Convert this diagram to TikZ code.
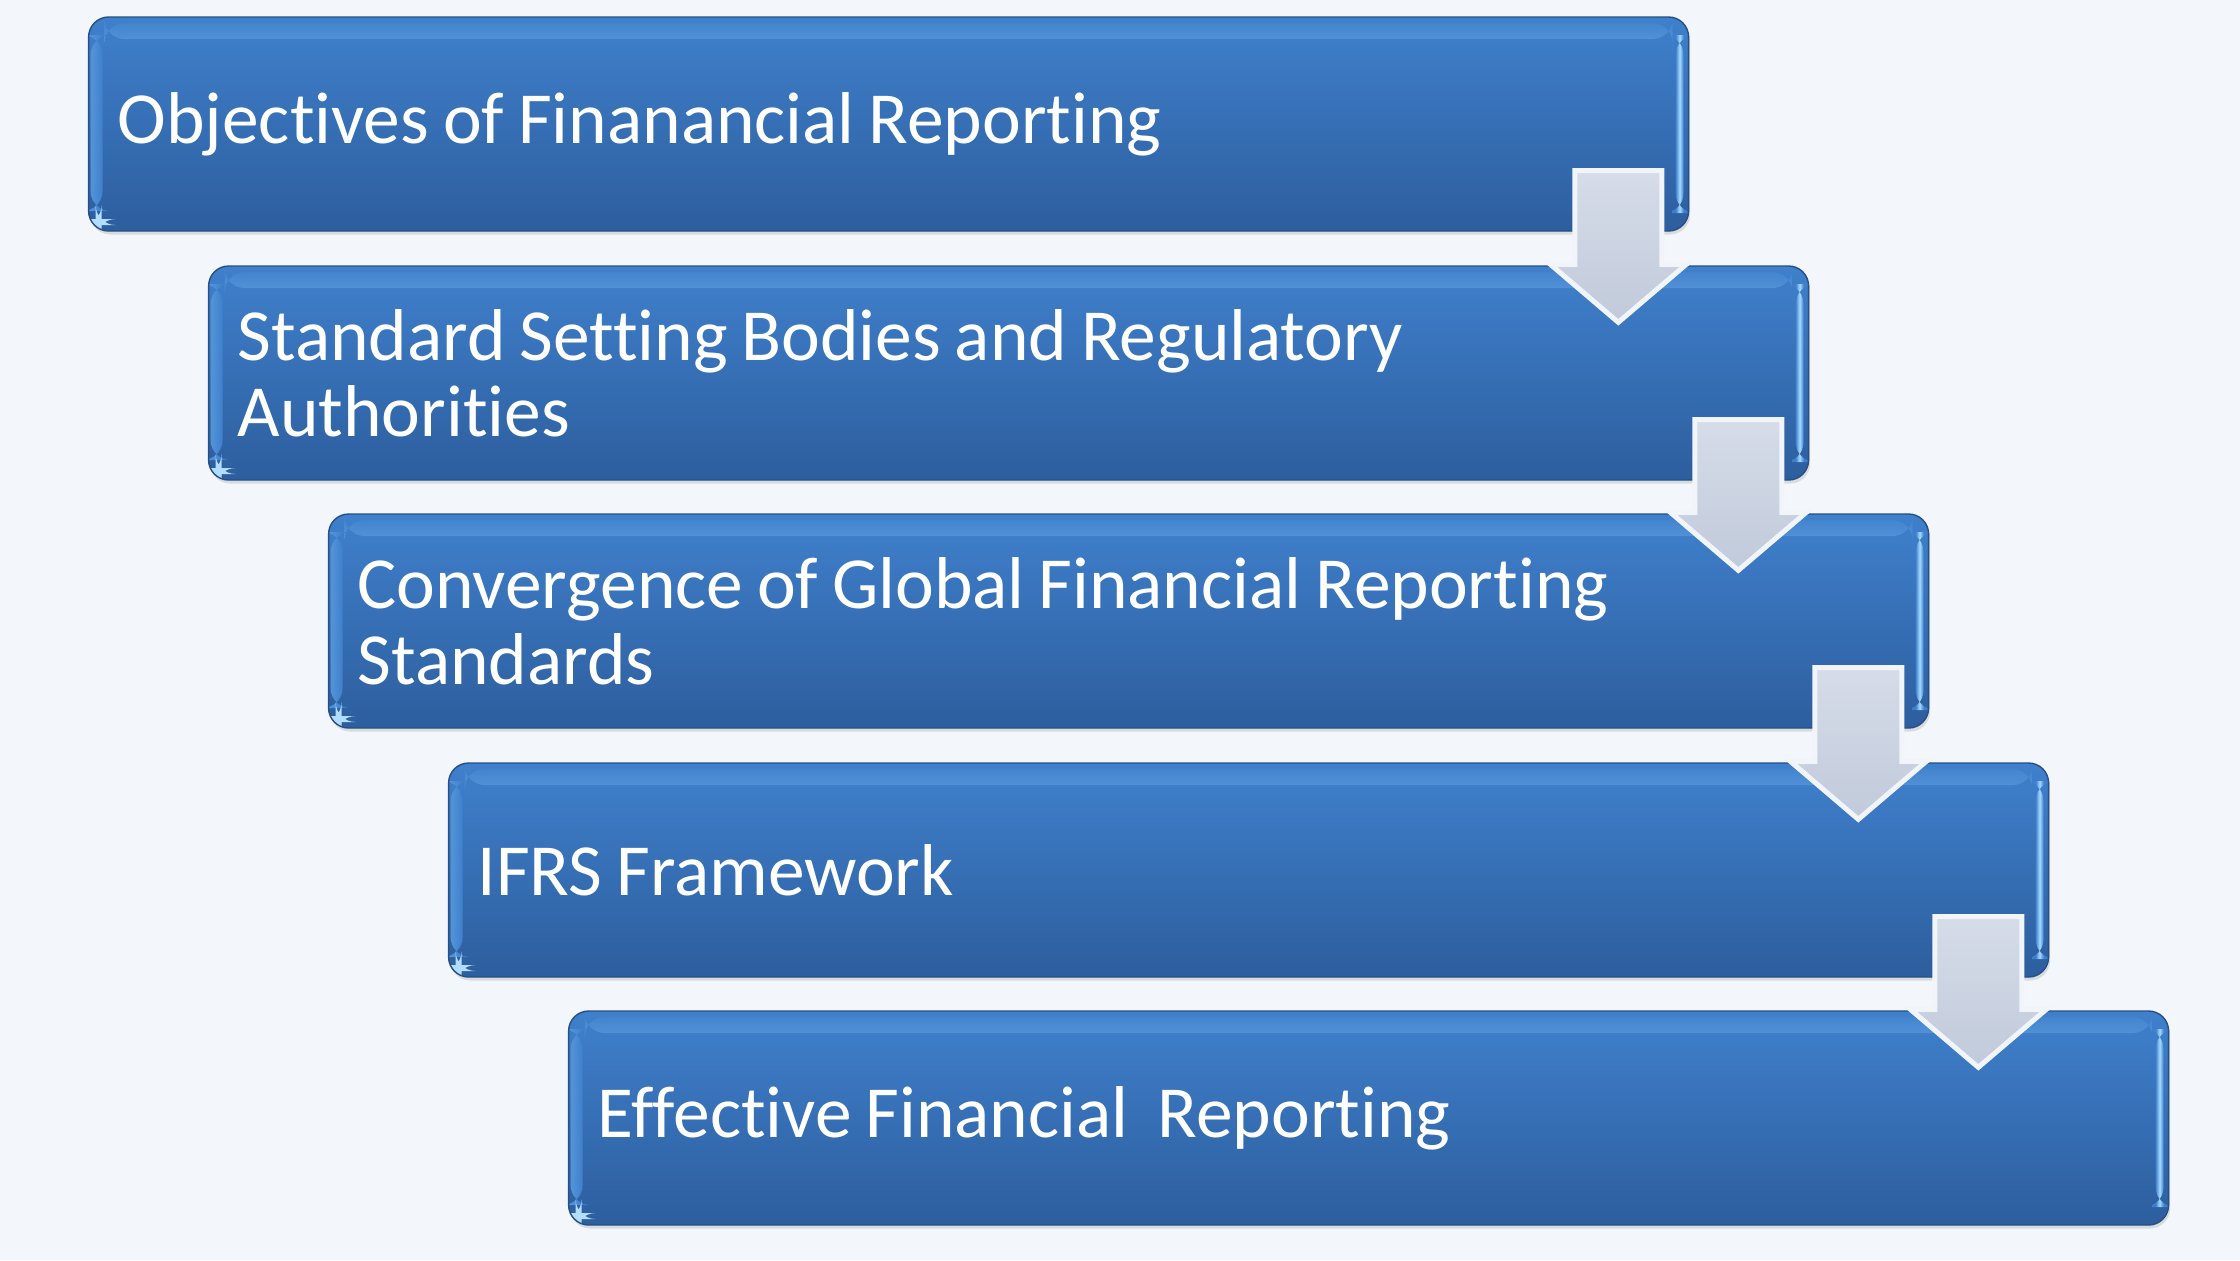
\documentclass[tikz,border=0pt]{standalone}
\usepackage{fontspec}
\setmainfont{Carlito}[Ligatures=NoCommon]
\usetikzlibrary{calc,shadows}
\definecolor{bg}{HTML}{F3F6FA}
\definecolor{boxtop}{HTML}{3F80CC}
\definecolor{boxbot}{HTML}{2D5E9E}
\definecolor{hl}{HTML}{8FD0FF}
\definecolor{arrtop}{HTML}{D6DCE8}
\definecolor{arrbot}{HTML}{C1CADB}
\definecolor{arredge}{HTML}{F1F4F9}
\newcommand\stagefont{\fontsize{20.9}{21.6}\selectfont}
\tikzset{
  stagebox/.style={rounded corners=0.2cm, minimum width=16cm, minimum height=2.14cm,
    inner xsep=0.29cm, inner ysep=0pt, text width=15.42cm, align=flush left, text=white,
    font=\stagefont, execute at begin node={\spaceskip=0.19em\relax\xspaceskip=0.19em\relax},
    top color=boxtop, bottom color=boxbot, draw=boxbot!85!black, line width=0.4pt,
    drop shadow={opacity=0.22, shadow xshift=0.015cm, shadow yshift=-0.035cm},
    path picture={
      \shade[top color=boxtop, bottom color=boxtop, middle color=hl]
        ([xshift=0.16cm,yshift=-0.06cm]path picture bounding box.north west) rectangle
        ([xshift=-0.16cm,yshift=-0.22cm]path picture bounding box.north east);
      \shade[left color=boxtop, right color=boxtop, middle color=hl!80!white]
        ([xshift=-0.13cm,yshift=-0.18cm]path picture bounding box.north east) rectangle
        ([xshift=-0.05cm,yshift=0.18cm]path picture bounding box.south east);
      \shade[left color=boxtop!75!hl, right color=boxtop]
        ([xshift=0.02cm,yshift=-0.18cm]path picture bounding box.north west) rectangle
        ([xshift=0.14cm,yshift=0.2cm]path picture bounding box.south west);
      \fill[hl!70!white]
        ([xshift=0.07cm,yshift=0.06cm]path picture bounding box.south west) rectangle
        ([xshift=0.13cm,yshift=0.12cm]path picture bounding box.south west);
    }},
  flowarrow/.style={top color=arrtop, bottom color=arrbot, draw=arredge,
    line width=0.05cm, line join=miter}
}
\begin{document}
\begin{tikzpicture}
\fill[bg] (0,0) rectangle (22.4,-12.6);
\useasboundingbox (0,0) rectangle (22.4,-12.6);

\node[stagebox] (b1) at (8.886,-1.24) {Objectives of Finanancial Reporting};
\node[stagebox] (b2) at (10.086,-3.73) {Standard Setting Bodies and Regulatory\\Authorities};
\node[stagebox] (b3) at (11.286,-6.21) {Convergence of Global Financial Reporting\\Standards};
\node[stagebox] (b4) at (12.486,-8.70) {IFRS Framework};
\node[stagebox] (b5) at (13.686,-11.18) {Effective Financial\hspace{0.4em}Reporting};

\foreach \a/\b in {b1/b2,b2/b3,b3/b4,b4/b5}{
  \path[flowarrow] let \p1=(\a.south east), \p2=(\b.north) in
    (\x1-1.145cm, \y1+0.61cm) -- (\x1-0.275cm, \y1+0.61cm) --
    (\x1-0.275cm, \y2+0.01cm) -- (\x1-0.03cm, \y2+0.01cm) --
    (\x1-0.71cm, \y2-0.57cm) -- (\x1-1.39cm, \y2+0.01cm) --
    (\x1-1.145cm, \y2+0.01cm) -- cycle;
}
\end{tikzpicture}
\end{document}
